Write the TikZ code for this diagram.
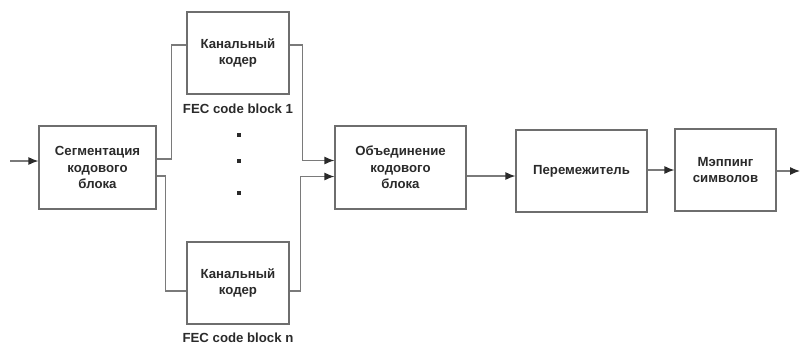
\documentclass[tikz,border=0pt]{standalone}
\usepackage{fontspec}
\setmainfont{Liberation Sans}
\usetikzlibrary{arrows.meta}
\definecolor{boxline}{HTML}{6E6E6E}
\definecolor{wire}{HTML}{7A7A7A}
\definecolor{ink}{HTML}{2A2A2A}
\tikzset{
  blk/.style={draw=boxline, line width=1.2pt, fill=white, align=center,
    text=ink, font=\fontsize{13.2}{16.5}\selectfont\bfseries, inner sep=0pt},
  lbl/.style={text=ink, font=\fontsize{13.2}{16.5}\selectfont\bfseries, inner sep=0pt},
  dot/.style={fill=ink, minimum size=4pt, inner sep=0pt},
  wr/.style={draw=wire, line width=1.2pt},
  arr/.style={wr, -{Latex[length=10pt,width=8pt,color=ink]}}
}
\begin{document}
\begin{tikzpicture}[x=1pt,y=-1pt]
      \useasboundingbox (0,0) rectangle (800,349);
      \node[blk, minimum width=117pt, minimum height=83pt] (seg) at (97.5,167.5) {Сегментация\\кодового\\блока};
      \node[blk, minimum width=102pt, minimum height=82pt] (enc1) at (238,53) {Канальный\\кодер};
      \node[blk, minimum width=102pt, minimum height=82pt] (encn) at (238,283) {Канальный\\кодер};
      \node[blk, minimum width=131pt, minimum height=83pt] (merge) at (400.5,167.5) {Объединение\\кодового\\блока};
      \node[blk, minimum width=131pt, minimum height=82pt] (inter) at (581.5,171) {Перемежитель};
      \node[blk, minimum width=101pt, minimum height=82pt] (map) at (725.5,170) {Мэппинг\\символов};
      \node[lbl] (fec1) at (238,109) {FEC code block 1};
      \node[lbl] (fecn) at (238,338) {FEC code block n};
      \node[dot] (d1) at (239,135) {};
      \node[dot] (d2) at (239,161) {};
      \node[dot] (d3) at (239,193) {};
      \coordinate (in) at (10,161);
      \coordinate (out) at (800,171);
      \begin{scope}[wr]
        \draw[arr] (in) -- (in -| seg.west);
        \draw ([yshift=8.5pt]seg.east) -| ([xshift=-15pt,yshift=8pt]enc1.west) -- ([yshift=8pt]enc1.west);
        \draw ([yshift=-8.5pt]seg.east) -| ([xshift=-21pt,yshift=-8pt]encn.west) -- ([yshift=-8pt]encn.west);
        \draw[arr] ([yshift=8pt]enc1.east) -| ([xshift=-32pt,yshift=7pt]merge.west) -- ([yshift=7pt]merge.west);
        \draw[arr] ([yshift=-8pt]encn.east) -| ([xshift=-34pt,yshift=-9pt]merge.west) -- ([yshift=-9pt]merge.west);
        \draw[arr] ([yshift=-8.5pt]merge.east) -- ([yshift=-8.5pt]merge.east -| inter.west);
        \draw[arr] (inter.east |- map) -- (map.west);
        \draw[arr] (map.east |- out) -- (out);
      \end{scope}
    \end{tikzpicture}
\end{document}
